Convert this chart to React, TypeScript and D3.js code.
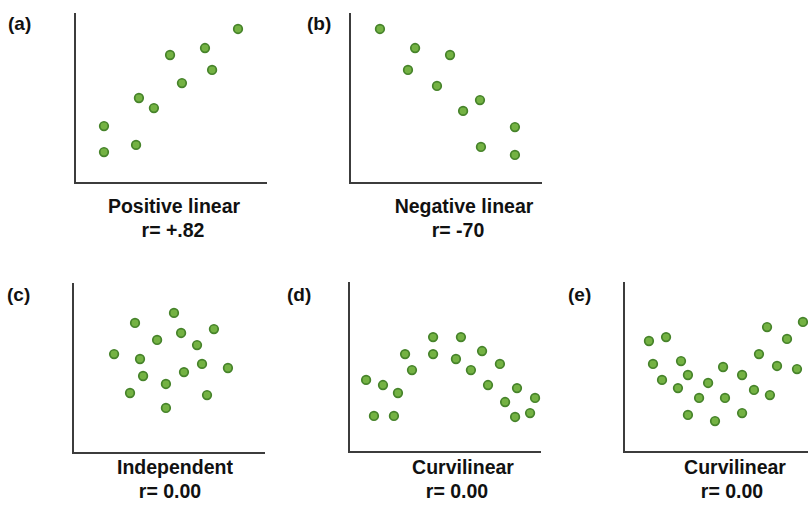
import React from "react";
import * as d3 from "d3";

// ---- data (values on a 0–10 scale in each panel) ----
const posX = [8.49, 6.77, 4.95, 7.14, 5.57, 3.33, 4.11, 1.51, 3.18, 1.51];
const posY = [9.06, 7.94, 7.53, 6.65, 5.88, 5.0, 4.41, 3.35, 2.24, 1.82];

const negX = [1.56, 3.39, 5.21, 3.02, 4.53, 6.77, 5.89, 8.59, 6.82, 8.59];
const negY = [9.06, 7.94, 7.53, 6.65, 5.71, 4.88, 4.24, 3.29, 2.12, 1.65];

const indX = [5.26, 3.23, 7.34, 5.63, 4.38, 6.46, 2.14, 3.49, 6.72, 8.07, 3.65, 5.78, 4.84, 2.97, 6.98, 4.84];
const indY = [8.24, 7.65, 7.29, 7.06, 6.65, 6.35, 5.82, 5.53, 5.24, 5.0, 4.53, 4.76, 4.06, 3.53, 3.41, 2.65];

const arcX = [4.38, 5.83, 2.92, 4.38, 5.57, 6.93, 3.28, 6.35, 7.86, 0.89, 1.77, 2.55, 7.24, 8.75, 9.69, 8.13, 1.3, 2.34, 8.65, 9.43];
const arcY = [6.76, 6.76, 5.76, 5.76, 5.47, 5.94, 4.82, 4.82, 5.18, 4.24, 3.94, 3.47, 3.94, 3.76, 3.18, 2.94, 2.12, 2.12, 2.06, 2.29];

const bowlX = [1.3, 2.19, 1.51, 2.97, 3.33, 1.98, 2.81, 4.38, 5.16, 3.91, 5.26, 6.15, 6.77, 7.6, 7.03, 7.45, 8.49, 7.97, 9.01, 9.32, 3.33, 4.74, 6.15];
const bowlY = [6.53, 6.76, 5.18, 5.35, 4.53, 4.24, 3.76, 4.06, 5.0, 3.18, 3.18, 4.53, 3.65, 3.35, 5.76, 7.35, 6.65, 5.06, 4.88, 7.65, 2.18, 1.82, 2.29];

const panelTags = ["(a)", "(b)", "(c)", "(d)", "(e)"];
const panelTitles = ["Positive linear", "Negative linear", "Independent", "Curvilinear", "Curvilinear"];
const panelStats = ["r= +.82", "r= -70", "r= 0.00", "r= 0.00", "r= 0.00"];
const seriesX = [posX, negX, indX, arcX, bowlX];
const seriesY = [posY, negY, indY, arcY, bowlY];

// ---- layout ----
const W = 808;
const H = 509;
const layout = [
  { x0: 75, yb: 183, tagX: 8, tagY: 30, tx: 174, rx: 173, t1: 213, t2: 237 },
  { x0: 350, yb: 183, tagX: 307, tagY: 30, tx: 464, rx: 458, t1: 213, t2: 237 },
  { x0: 73, yb: 453, tagX: 7, tagY: 301, tx: 175, rx: 170, t1: 474, t2: 498 },
  { x0: 349, yb: 452, tagX: 287, tagY: 301, tx: 463, rx: 457, t1: 474, t2: 498 },
  { x0: 624, yb: 452, tagX: 568, tagY: 301, tx: 735, rx: 732, t1: 474, t2: 498 },
];
const plotW = 192;
const plotH = 170;
const FONT = "'Liberation Sans', Arial, Helvetica, sans-serif";

export default function App() {
  return (
    <svg
      width={W}
      height={H}
      style={{ position: "absolute", left: 0, top: 0, background: "#fff" }}
    >
      <rect width={W} height={H} fill="#ffffff" />
      {layout.map((L, i) => {
        const x = d3.scaleLinear().domain([0, 10]).range([L.x0, L.x0 + plotW]);
        const y = d3.scaleLinear().domain([0, 10]).range([L.yb, L.yb - plotH]);
        const axisPath = d3.path();
        axisPath.moveTo(x(0), y(10));
        axisPath.lineTo(x(0), y(0));
        axisPath.lineTo(x(10), y(0));
        return (
          <g key={i}>
            <path d={axisPath.toString()} fill="none" stroke="#3c3c3c" strokeWidth={2} />
            {seriesX[i].map((vx, j) => (
              <circle
                key={j}
                cx={x(vx)}
                cy={y(seriesY[i][j])}
                r={4.3}
                fill="#74b243"
                stroke="#46832a"
                strokeWidth={1.7}
              />
            ))}
            <text x={L.tagX} y={L.tagY} fontFamily={FONT} fontWeight="bold" fontSize={19} fill="#111">
              {panelTags[i]}
            </text>
            <text x={L.tx} y={L.t1} textAnchor="middle" fontFamily={FONT} fontWeight="bold" fontSize={19.5} fill="#111">
              {panelTitles[i]}
            </text>
            <text x={L.rx} y={L.t2} textAnchor="middle" fontFamily={FONT} fontWeight="bold" fontSize={19.5} fill="#111">
              {panelStats[i]}
            </text>
          </g>
        );
      })}
    </svg>
  );
}
